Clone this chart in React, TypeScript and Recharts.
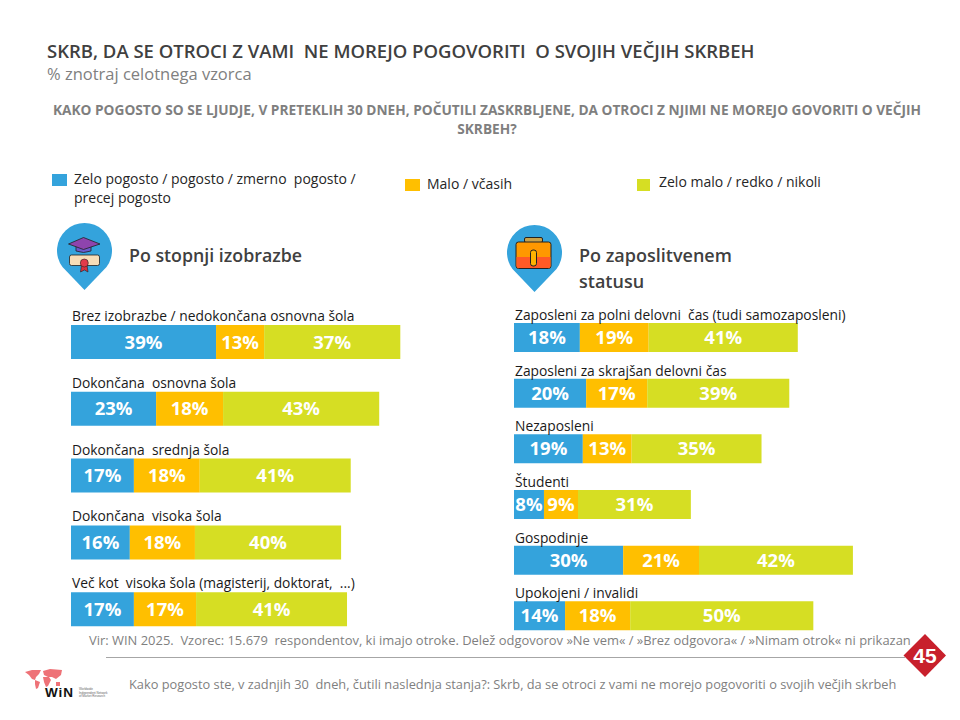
import React from "react";
import { BarChart, Bar, XAxis, YAxis, LabelList } from "recharts";

const seriesNames = ["Zelo pogosto / pogosto / zmerno  pogosto /\nprecej pogosto", "Malo / včasih", "Zelo malo / redko / nikoli"];
const BLUE = "#34A3DC";
const ORANGE = "#FFBF00";
const LIME = "#D6DE23";
const FONT = "'Open Sans', sans-serif";

const eduNames = [
  "Brez izobrazbe / nedokončana osnovna šola",
  "Dokončana  osnovna šola",
  "Dokončana  srednja šola",
  "Dokončana  visoka šola",
  "Več kot  visoka šola (magisterij, doktorat,  ...)",
];
const eduHigh = [39.2, 23, 17, 15.9, 17];
const eduMid = [13, 18.1, 17.8, 17.6, 16.8];
const eduLow = [36.8, 42.2, 40.8, 39.5, 40.8];
const eduHighLabels = ["39%", "23%", "17%", "16%", "17%"];
const eduMidLabels = ["13%", "18%", "18%", "18%", "17%"];
const eduLowLabels = ["37%", "43%", "41%", "40%", "41%"];

const jobNames = [
  "Zaposleni za polni delovni  čas (tudi samozaposleni)",
  "Zaposleni za skrajšan delovni čas",
  "Nezaposleni",
  "Študenti",
  "Gospodinje",
  "Upokojeni / invalidi",
];
const jobHigh = [17.8, 19.5, 18.6, 8.1, 29.5, 13.8];
const jobMid = [18.6, 16.5, 13.2, 9.2, 20.5, 17.6];
const jobLow = [40.3, 38.4, 35.1, 30.5, 41.6, 49.5];
const jobHighLabels = ["18%", "20%", "19%", "8%", "30%", "14%"];
const jobMidLabels = ["19%", "17%", "13%", "9%", "21%", "18%"];
const jobLowLabels = ["41%", "39%", "35%", "31%", "42%", "50%"];

const eduData = eduNames.map((name, i) => ({
  name,
  high: eduHigh[i], mid: eduMid[i], low: eduLow[i],
  highLabel: eduHighLabels[i], midLabel: eduMidLabels[i], lowLabel: eduLowLabels[i],
}));
const jobData = jobNames.map((name, i) => ({
  name,
  high: jobHigh[i], mid: jobMid[i], low: jobLow[i],
  highLabel: jobHighLabels[i], midLabel: jobMidLabels[i], lowLabel: jobLowLabels[i],
}));

const valueStyle = { fontFamily: FONT, fontSize: 18.5, fontWeight: 700 };

function Stacked({ data, left, top, barSize, labelGap }: any) {
  const rowLabel = (p: any) => (
    <text x={p.x + 1} y={p.y - labelGap} fontFamily={FONT} fontSize={13.8} fill="#1a1a1a" style={{ whiteSpace: "pre" }}>
      {p.value}
    </text>
  );
  return (
    <div style={{ position: "absolute", left, top }}>
      <BarChart
        width={370} height={344} data={data} layout="vertical"
        margin={{ top: 10, right: 0, left: 0, bottom: 0 }}
        barCategoryGap={0}
      >
        <XAxis type="number" domain={[0, 100]} hide />
        <YAxis type="category" dataKey="name" hide />
        <Bar dataKey="high" stackId="a" fill={BLUE} barSize={barSize} isAnimationActive={false}>
          <LabelList dataKey="highLabel" position="center" fill="#fff" style={valueStyle} />
          <LabelList dataKey="name" content={rowLabel} />
        </Bar>
        <Bar dataKey="mid" stackId="a" fill={ORANGE} barSize={barSize} isAnimationActive={false}>
          <LabelList dataKey="midLabel" position="center" fill="#fff" style={valueStyle} />
        </Bar>
        <Bar dataKey="low" stackId="a" fill={LIME} barSize={barSize} isAnimationActive={false}>
          <LabelList dataKey="lowLabel" position="center" fill="#fff" style={valueStyle} />
        </Bar>
      </BarChart>
    </div>
  );
}

function Txt({ x, y, size, color, weight, children, style }: any) {
  return (
    <div style={{
      position: "absolute", left: x, top: y, fontFamily: FONT, fontSize: size, color,
      fontWeight: weight || 400, whiteSpace: "pre", lineHeight: 1.3, ...style,
    }}>
      {children}
    </div>
  );
}

function pinPath(cx: number, cy: number) {
  return `M${cx} ${cy + 39.5} L${cx - 22} ${cy + 16.5} A27.5 27.5 0 1 1 ${cx + 22} ${cy + 16.5} Z`;
}

function Decor() {
  return (
    <svg width={960} height={720} style={{ position: "absolute", left: 0, top: 0 }}>
      {/* education pin */}
      <path d={pinPath(84.5, 250.5)} fill={BLUE} />
      <rect x={69.5} y={255} width={30} height={10.5} rx={2} fill="#F7DDB7" stroke="#222" strokeWidth={0.8} />
      <path d="M76 245 L76 251 Q83.5 254 91 251 L91 245 Z" fill="#6A5ACD" stroke="#222" strokeWidth={0.8} />
      <path d="M68.5 244 L83.5 237.5 L100 244 L83.5 249.5 Z" fill="#8E44AD" stroke="#222" strokeWidth={0.8} />
      <path d="M81.5 265 L80.5 272 L84.5 270 L88 272 L87 265 Z" fill="#D9303F" stroke="#222" strokeWidth={0.6} />
      <circle cx={84.3} cy={263} r={4} fill="#E23B4A" stroke="#222" strokeWidth={0.6} />

      {/* job pin */}
      <path d={pinPath(534.5, 252.5)} fill={BLUE} />
      <rect x={524.5} y={237.5} width={18} height={5} rx={1.5} fill="#C9A24A" stroke="#222" strokeWidth={1} />
      <rect x={516} y={242} width={35} height={26.5} rx={2.5} fill="#FF9800" stroke="#222" strokeWidth={1} />
      <path d="M516.5 257 H550.5 V266 Q550.5 268 548.5 268 H518.5 Q516.5 268 516.5 266 Z" fill="#FF5A26" />
      <rect x={530.5} y={250} width={6} height={16} rx={2.5} fill="#FFB300" stroke="#222" strokeWidth={1} />

      {/* source rule and page badge */}
      <line x1={106} y1={657.5} x2={905} y2={657.5} stroke="#A6A6A6" strokeWidth={1} />
      <path d="M925 634 L946 655.5 L925 677 L903.5 655.5 Z" fill="#C8202C" />
      <text x={925} y={663} textAnchor="middle" fontFamily="'Liberation Sans'" fontWeight={700} fontSize={21} fill="#fff">45</text>

      {/* WIN logo */}
      <g fill="#EE7277">
        <path d="M25 672 L32 670 L41 670 L39 674 L36 677 L35 680 L32 679 L29 675 Z" />
        <path d="M35 680 L40 682 L38 688 L36 689 L35 684 Z" />
        <path d="M43 671 L50 669 L62 670 L61 675 L56 679 L52 677 L48 677 L44 675 Z" />
        <path d="M43 677 L49 677 L51 680 L48 686 L46 687 L44 682 Z" />
        <path d="M56 682 L60 682 L60 686 L56 686 Z" />
      </g>
      <text x={45} y={697} fontFamily="'Liberation Sans'" fontWeight={700} fontSize={13.5} fill="#111" textLength={28}>WiN</text>
      <g fontFamily="'Liberation Sans'" fontSize={3} fill="#666">
        <text x={79} y={690}>Worldwide</text>
        <text x={79} y={693.5}>Independent Network</text>
        <text x={79} y={697}>of Market Research</text>
      </g>
    </svg>
  );
}

export default function App() {
  return (
    <div style={{ position: "absolute", left: 0, top: 0, width: 960, height: 720, background: "#fff", overflow: "hidden" }}>
      <Decor />
      <Txt x={47} y={39} size={18.5} weight={600} color="#404040">SKRB, DA SE OTROCI Z VAMI  NE MOREJO POGOVORITI  O SVOJIH VEČJIH SKRBEH</Txt>
      <Txt x={47} y={63} size={16.5} color="#808080">% znotraj celotnega vzorca</Txt>
      <div style={{
        position: "absolute", left: 47, top: 100, width: 880, textAlign: "center", fontFamily: FONT,
        fontSize: 13.7, fontWeight: 700, color: "#7F7F7F", lineHeight: "19px",
      }}>
        KAKO POGOSTO SO SE LJUDJE, V PRETEKLIH 30 DNEH, POČUTILI ZASKRBLJENE, DA OTROCI Z NJIMI NE MOREJO GOVORITI O VEČJIH<br />SKRBEH?
      </div>

      <div style={{ position: "absolute", left: 52, top: 174, width: 15, height: 12, background: BLUE }} />
      <Txt x={74} y={169} size={14} color="#262626" style={{ lineHeight: "19px" }}>{seriesNames[0]}</Txt>
      <div style={{ position: "absolute", left: 405, top: 179, width: 15, height: 12, background: ORANGE }} />
      <Txt x={427} y={175} size={14} color="#262626">{seriesNames[1]}</Txt>
      <div style={{ position: "absolute", left: 637, top: 179, width: 13, height: 12, background: LIME }} />
      <Txt x={659} y={173} size={14} color="#262626">{seriesNames[2]}</Txt>

      <Txt x={129} y={244} size={17.8} weight={600} color="#404040">Po stopnji izobrazbe</Txt>
      <Txt x={579} y={242} size={18} weight={600} color="#404040" style={{ lineHeight: "26px" }}>{"Po zaposlitvenem\nstatusu"}</Txt>

      <Stacked data={eduData} left={71} top={299} barSize={34} labelGap={4} />
      <Stacked data={jobData} left={514} top={300} barSize={29} labelGap={3} />

      <Txt x={89} y={632} size={12.95} color="#7F7F7F">Vir: WIN 2025.  Vzorec: 15.679  respondentov, ki imajo otroke. Delež odgovorov »Ne vem« / »Brez odgovora« / »Nimam otrok« ni prikazan</Txt>
      <Txt x={129} y={676} size={12.8} color="#7F7F7F">Kako pogosto ste, v zadnjih 30  dneh, čutili naslednja stanja?: Skrb, da se otroci z vami ne morejo pogovoriti o svojih večjih skrbeh</Txt>
    </div>
  );
}
